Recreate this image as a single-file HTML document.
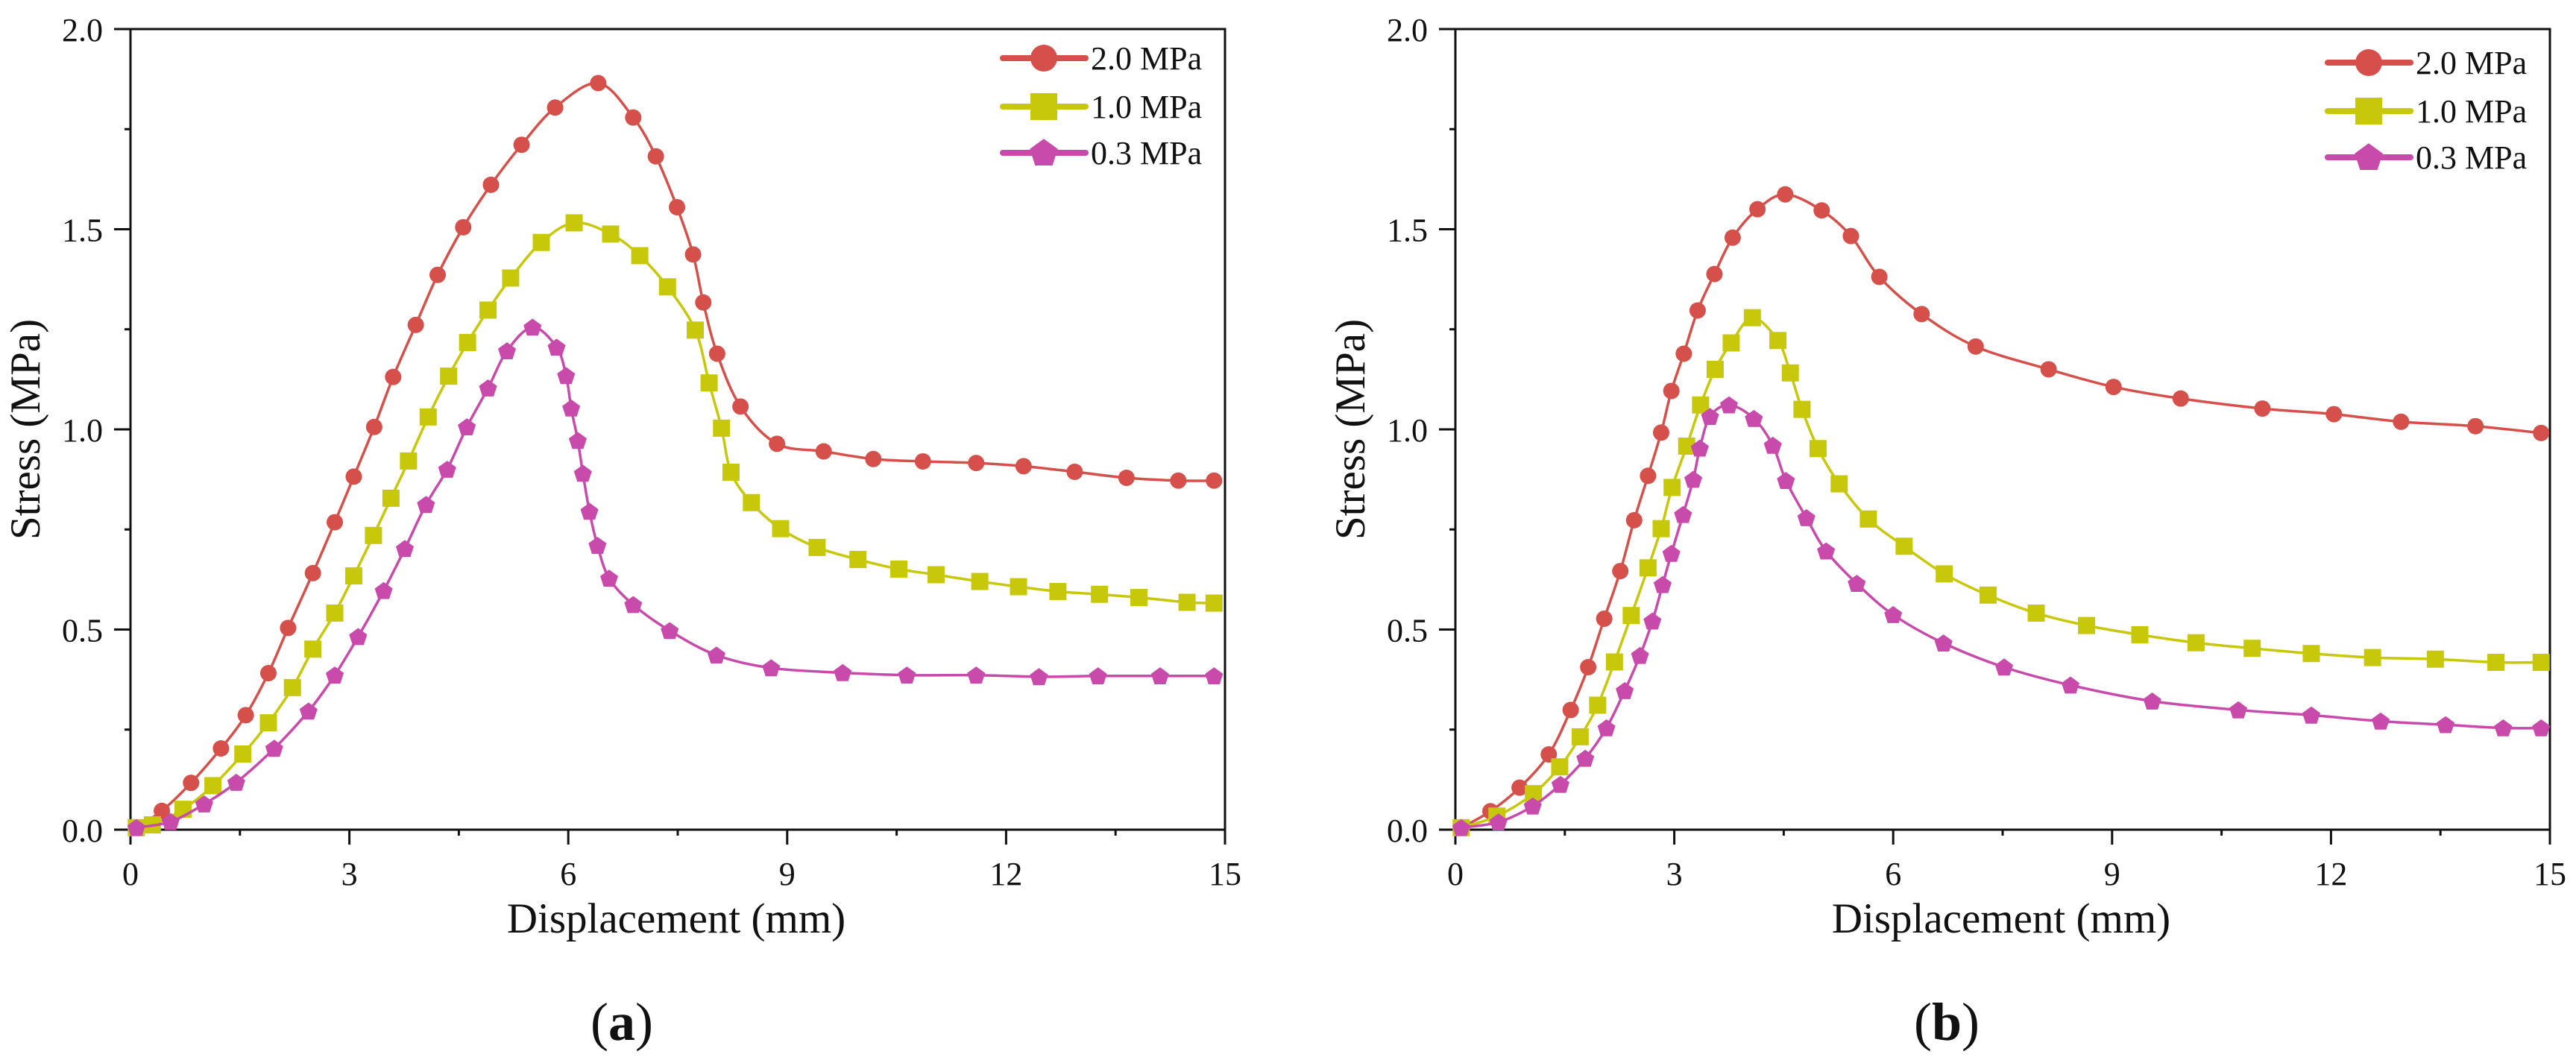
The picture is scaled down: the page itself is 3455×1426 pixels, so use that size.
<!DOCTYPE html>
<html><head><meta charset="utf-8"><style>
html,body{margin:0;padding:0;background:#fff;}
svg{display:block;font-family:"Liberation Serif",serif;}
</style></head><body>
<svg id="fig" width="3455" height="1426" viewBox="0 0 3455 1426" xmlns="http://www.w3.org/2000/svg"></svg>
<script>
const xTicks=[0,3,6,9,12,15];
const yTicks=[0.0,0.5,1.0,1.5,2.0];
const seriesLabels=["2.0 MPa","1.0 MPa","0.3 MPa"];
const panelLabels=["a","b"];
// Panel (a)
const aRedX=[0.08,0.43,0.83,1.24,1.58,1.89,2.16,2.50,2.80,3.06,3.34,3.60,3.91,4.21,4.56,4.94,5.36,5.82,6.41,6.89,7.20,7.49,7.71,7.85,8.04,8.36,8.86,9.50,10.18,10.86,11.59,12.24,12.94,13.65,14.36,14.85];
const aRedY=[0.005,0.047,0.117,0.203,0.286,0.391,0.504,0.641,0.768,0.882,1.006,1.131,1.261,1.386,1.505,1.611,1.711,1.804,1.865,1.779,1.682,1.555,1.437,1.317,1.189,1.057,0.964,0.945,0.926,0.920,0.916,0.908,0.894,0.879,0.872,0.872];
const aYelX=[0.08,0.30,0.72,1.13,1.54,1.89,2.22,2.50,2.80,3.06,3.33,3.57,3.81,4.08,4.36,4.62,4.90,5.21,5.63,6.08,6.58,6.98,7.36,7.74,7.93,8.10,8.23,8.51,8.91,9.41,9.97,10.53,11.04,11.64,12.17,12.71,13.28,13.82,14.48,14.85];
const aYelY=[0.005,0.012,0.051,0.110,0.189,0.267,0.355,0.451,0.541,0.634,0.735,0.828,0.921,1.031,1.133,1.217,1.298,1.378,1.467,1.516,1.488,1.434,1.356,1.248,1.116,1.003,0.893,0.817,0.752,0.705,0.675,0.651,0.637,0.620,0.607,0.595,0.588,0.580,0.568,0.566];
const aMagX=[0.08,0.55,1.01,1.45,1.97,2.44,2.80,3.12,3.47,3.76,4.05,4.34,4.61,4.90,5.16,5.51,5.84,5.97,6.04,6.13,6.20,6.29,6.40,6.56,6.89,7.39,8.03,8.78,9.76,10.64,11.59,12.45,13.26,14.11,14.85];
const aMagY=[0.005,0.020,0.064,0.118,0.203,0.296,0.386,0.482,0.597,0.702,0.812,0.900,1.006,1.103,1.196,1.255,1.205,1.134,1.053,0.972,0.890,0.795,0.710,0.628,0.562,0.497,0.436,0.404,0.392,0.386,0.386,0.382,0.384,0.384,0.384];
// Panel (b)
const bRedX=[0.08,0.48,0.88,1.28,1.58,1.82,2.04,2.26,2.45,2.64,2.82,2.96,3.13,3.32,3.55,3.80,4.14,4.52,5.02,5.42,5.81,6.39,7.13,8.13,9.02,9.94,11.06,12.04,12.96,13.98,14.88];
const bRedY=[0.005,0.046,0.105,0.188,0.299,0.406,0.527,0.646,0.773,0.884,0.992,1.096,1.189,1.297,1.388,1.479,1.550,1.587,1.547,1.483,1.381,1.288,1.207,1.150,1.106,1.077,1.052,1.038,1.019,1.008,0.991];
const bYelX=[0.08,0.57,1.07,1.43,1.71,1.95,2.18,2.41,2.64,2.82,2.97,3.17,3.36,3.56,3.78,4.07,4.42,4.59,4.75,4.97,5.26,5.66,6.15,6.70,7.30,7.96,8.65,9.38,10.15,10.92,11.73,12.57,13.43,14.26,14.88];
const bYelY=[0.005,0.034,0.090,0.157,0.232,0.311,0.419,0.535,0.654,0.752,0.855,0.958,1.061,1.150,1.216,1.279,1.222,1.141,1.050,0.952,0.864,0.776,0.708,0.639,0.586,0.541,0.510,0.487,0.467,0.453,0.440,0.430,0.426,0.418,0.418];
const bMagX=[0.08,0.59,1.06,1.44,1.78,2.07,2.32,2.53,2.70,2.84,2.96,3.12,3.26,3.35,3.49,3.75,4.09,4.35,4.53,4.81,5.08,5.50,6.00,6.69,7.52,8.43,9.55,10.73,11.73,12.68,13.57,14.36,14.88];
const bMagY=[0.005,0.019,0.059,0.113,0.178,0.254,0.347,0.435,0.521,0.612,0.690,0.787,0.875,0.953,1.032,1.061,1.027,0.960,0.872,0.779,0.696,0.615,0.537,0.466,0.406,0.361,0.321,0.299,0.286,0.271,0.262,0.254,0.254];

const NS="http://www.w3.org/2000/svg";
const svg=document.getElementById('fig');
const colors=["#d5504b","#c8c80a","#c84aaa"];
const shapes=["circle","square","pentagon"];
function mk(tag,attrs,parent){const e=document.createElementNS(NS,tag);for(const k in attrs)e.setAttribute(k,attrs[k]);(parent||svg).appendChild(e);return e;}
function smooth(pts){let d=`M${pts[0][0]},${pts[0][1]}`;for(let i=0;i<pts.length-1;i++){const p0=pts[Math.max(0,i-1)],p1=pts[i],p2=pts[i+1],p3=pts[Math.min(pts.length-1,i+2)];const c1x=p1[0]+(p2[0]-p0[0])/6,c1y=p1[1]+(p2[1]-p0[1])/6,c2x=p2[0]-(p3[0]-p1[0])/6,c2y=p2[1]-(p3[1]-p1[1])/6;d+=` C${c1x},${c1y} ${c2x},${c2y} ${p2[0]},${p2[1]}`;}return d;}
function marker(g,shape,cx,cy,r,color){
  if(shape==="circle")return mk('circle',{cx,cy,r,fill:color},g);
  if(shape==="square")return mk('rect',{x:cx-r,y:cy-r,width:2*r,height:2*r,fill:color},g);
  const p=[];for(let k=0;k<5;k++){const a=-Math.PI/2+k*2*Math.PI/5;p.push((cx+r*1.1*Math.cos(a)).toFixed(1)+","+(cy+r*1.1*Math.sin(a)+1).toFixed(1));}
  return mk('polygon',{points:p.join(" "),fill:color},g);
}
function panel(idx,X0,data){
  const X1=X0+1468,Y0=1113,Y1=39;
  const sx=v=>X0+(v-0)/(15-0)*(X1-X0);
  const sy=v=>Y0-(v-0)/(2-0)*(Y0-Y1);
  const g=mk('g',{});
  
  
  // frame
  const fr=mk('rect',{x:X0,y:Y1,width:X1-X0,height:Y0-Y1,fill:'none',stroke:'#111','stroke-width':3},g);
  
  
  // x ticks
  for(let v=0;v<=15.001;v+=1.5){const major=Math.abs(v/3-Math.round(v/3))<1e-6;const x=sx(v);const t=mk('line',{x1:x,x2:x,y1:Y0,y2:Y0+(major?20:8),stroke:'#111','stroke-width':3},g);}
  xTicks.forEach(v=>{const t=mk('text',{x:sx(v),y:1187,'font-size':44,'text-anchor':'middle',fill:'#111'},g);t.textContent=String(v);});
  for(let v=0;v<=2.001;v+=0.25){const major=Math.abs(v*2-Math.round(v*2))<1e-6;const y=sy(v);const t=mk('line',{x1:X0-(major?22:8),x2:X0,y1:y,y2:y,stroke:'#111','stroke-width':3},g);}
  yTicks.forEach(v=>{const t=mk('text',{x:X0-37,y:sy(v)+16,'font-size':44,'text-anchor':'end',fill:'#111'},g);t.textContent=v.toFixed(1);});
  const xt=mk('text',{x:(X0+X1)/2-2,y:1251,'font-size':57,'text-anchor':'middle',fill:'#111'},g);xt.textContent="Displacement (mm)";
  
  const yt=mk('text',{x:0,y:0,'font-size':57,'text-anchor':'middle',fill:'#111',transform:`translate(${X0-122},576) rotate(-90)`},g);yt.textContent="Stress (MPa)";
  
  const pl=mk('text',{x:(X0+X1)/2-75,y:1395,'font-size':72,'text-anchor':'middle',fill:'#111'},g);
  pl.innerHTML=`(<tspan font-weight="bold">${panelLabels[idx]}</tspan>)`;
  
  // series
  data.forEach((s,si)=>{
    const sg=mk('g',{},g);
    
    
    const pts=s[0].map((x,i)=>[sx(x),sy(s[1][i])]);
    const ln=mk('path',{d:smooth(pts),fill:'none',stroke:colors[si],'stroke-width':3.5},sg);
    
    pts.forEach(p=>{const m=marker(sg,shapes[si],p[0],p[1],si===0?11:11.5,colors[si]);});
  });
  // legend
  const lg=mk('g',{},g);
  
  const off=idx===0?0:6;
  const ly=[78+off,143+off,205+off];
  seriesLabels.forEach((lab,si)=>{
    const eg=mk('g',{},lg);
    
    const lx=X1-298;
    mk('line',{x1:lx,x2:lx+111,y1:ly[si],y2:ly[si],stroke:colors[si],'stroke-width':8,'stroke-linecap':'round'},eg);
    marker(eg,shapes[si],lx+55,ly[si],18,colors[si]);
    const t=mk('text',{x:lx+118,y:ly[si]+15,'font-size':44,fill:'#111'},eg);t.textContent=lab;
  });
}
panel(0,175,[[aRedX,aRedY],[aYelX,aYelY],[aMagX,aMagY]]);
panel(1,1952,[[bRedX,bRedY],[bYelX,bYelY],[bMagX,bMagY]]);
</script>
</body></html>
